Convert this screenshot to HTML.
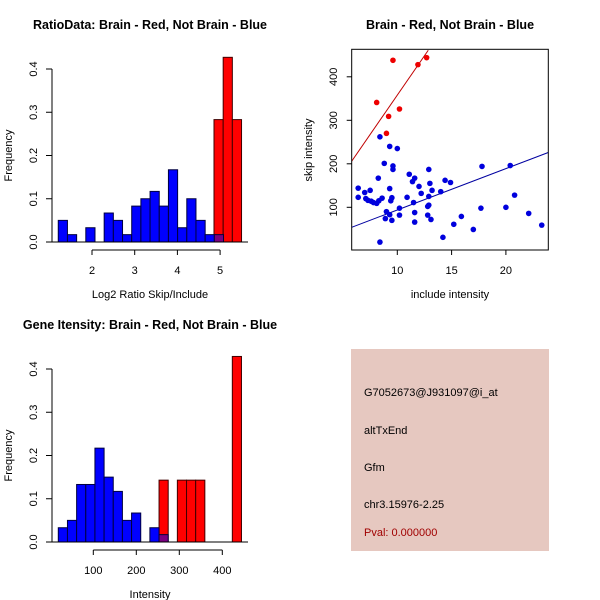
<!DOCTYPE html>
<html><head><meta charset="utf-8"><style>
body{margin:0;background:#fff;}
svg{display:block;font-family:"Liberation Sans",sans-serif;}
</style></head><body>
<svg id="c" width="600" height="600" xmlns="http://www.w3.org/2000/svg"></svg>
<script>
// ---- Panel 1 data: RatioData histogram ----
const ratioBlueStart = 1.21;
const ratioBinWidth = 0.215;
const ratioBlue = [0.05,0.017,0,0.033,0,0.067,0.05,0.017,0.083,0.1,0.117,0.083,0.167,0.033,0.1,0.05,0.017,0.017];
const ratioRedStart = 4.857;
const ratioRed = [0.283,0.427,0.283];
const ratioXTicks = [2,3,4,5];
const freqTicks = ["0.0","0.1","0.2","0.3","0.4"];
// ---- Panel 3 data: Gene intensity histogram ----
const intBlueStart = 18.6;
const intBinWidth = 21.3;
const intBlue = [0.033,0.05,0.133,0.133,0.217,0.15,0.117,0.05,0.067,0,0.033,0.017];
const intRedStart = 252.9;
const intRed = [0.143,0,0.143,0.143,0.143,0,0,0,0.429];
const intXTicks = [100,200,300,400];
// ---- Panel 2 data: scatter ----
const redX = [8.1,12.7,11.9,9.6,9.2,10.2,9.0];
const redY = [341,444,428,438,309,326,270];
const blueX = [8.4,9.3,10.0,8.8,9.6,9.6,12.9,17.8,20.4,8.25,11.1,11.6,11.4,12.0,13.0,14.4,14.9,6.4,9.3,7.0,7.5,12.2,13.2,14.0,20.8,6.4,7.1,7.3,7.6,7.8,8.1,8.3,8.6,9.5,9.4,10.9,11.5,12.9,12.8,12.9,20.0,17.7,10.2,9.0,9.3,10.2,11.6,12.8,15.9,22.1,8.9,9.5,11.6,13.1,15.2,17.0,23.3,14.2,8.4];
const blueY = [262,240,235,201,195,187,187,194,196,167,176,167,159,148,155,162,157,144,143,134,139,132,139,136,128,123,120,116,114,111,109,115,121,122,115,123,111,125,102,105,100,98,98,90,83,82,88,82,79,86,74,70,66,72,61,49,59,31,20];
const redLine = [5.8,206,12.85,461];
const blueLine = [5.8,54,23.9,226];
const scatXTicks = [10,15,20];
const scatYTicks = [100,200,300,400];

const svg = document.getElementById('c');
const NS = 'http://www.w3.org/2000/svg';
function mk(tag, attrs, parent){
  const e = document.createElementNS(NS, tag);
  for (const k in attrs) e.setAttribute(k, attrs[k]);
  (parent||svg).appendChild(e);
  return e;
}
function txt(s, x, y, size, opts, parent){
  const e = mk('text', Object.assign({x:x, y:y, 'font-size':size, 'text-anchor':'middle', fill:'#000'}, opts||{}), parent);
  e.textContent = s;
  return e;
}

function histogram(cfg){
  const g = mk('g', {});
  
  
  const xs = v => cfg.x0px + (v - cfg.x0) * cfg.xScale;
  const ys = v => cfg.y0px - v * cfg.yScale;
  // red bars
  cfg.red.forEach((v, i) => {
    if (v <= 0) return;
    const a = xs(cfg.redStart + i*cfg.bw), b = xs(cfg.redStart + (i+1)*cfg.bw);
    const r = mk('rect', {x:a, y:ys(v), width:b-a, height:v*cfg.yScale, fill:'#ff0000', stroke:'#400000', 'stroke-width':1}, g);
    
    
  });
  // blue bars
  cfg.blue.forEach((v, i) => {
    if (v <= 0) return;
    const lo = cfg.blueStart + i*cfg.bw;
    const a = xs(lo), b = xs(lo + cfg.bw);
    const overlap = lo >= cfg.redStart - cfg.bw*0.5;
    const r = mk('rect', {x:a, y:ys(v), width:b-a, height:v*cfg.yScale, fill: overlap ? '#7a0080' : '#0000ff', stroke:'#000040', 'stroke-width':1}, g);
    
    
  });
  // y axis
  const yax = mk('g', {}, g);
  
  
  mk('line', {x1:52, x2:52, y1:ys(0), y2:ys(0.4), stroke:'#000'}, yax);
  freqTicks.forEach((t, i) => {
    const y = ys(i*0.1);
    mk('line', {x1:46, x2:52, y1:y, y2:y, stroke:'#000'}, yax);
    const tl = txt(t, 37, y, 11, {transform:`rotate(-90 37 ${y})`}, yax);
    
    
  });
  // baseline
  mk('line', {x1:52, x2:248, y1:ys(0), y2:ys(0), stroke:'#000'}, g);
  // x axis
  const xax = mk('g', {}, g);
  
  
  const ay = cfg.y0px + 8;
  mk('line', {x1:xs(cfg.ticks[0]), x2:xs(cfg.ticks[cfg.ticks.length-1]), y1:ay, y2:ay, stroke:'#000'}, xax);
  cfg.ticks.forEach(t => {
    mk('line', {x1:xs(t), x2:xs(t), y1:ay, y2:ay+5, stroke:'#000'}, xax);
    const tl = txt(String(t), xs(t), ay+24, 11, {}, xax);
    
    
  });
  const xt = txt(cfg.xlabel, 150, cfg.y0px + 56, 11, {}, g);
  
  
  const yt = txt('Frequency', 12, ys(0.2), 11, {transform:`rotate(-90 12 ${ys(0.2)})`}, g);
  
  
  const tt = txt(cfg.title, 150, cfg.titleY, 12.5, {'font-weight':'bold'}, g);
  
  
}

histogram({name:'ratio-histogram', x0:2, x0px:92, xScale:42.7, y0px:242, yScale:432.5,
  blue:ratioBlue, red:ratioRed, blueStart:ratioBlueStart, redStart:ratioRedStart, bw:ratioBinWidth,
  ticks:ratioXTicks, xlabel:'Log2 Ratio Skip/Include', title:'RatioData: Brain - Red, Not Brain - Blue', titleY:29});
histogram({name:'intensity-histogram', x0:100, x0px:93.3, xScale:0.43, y0px:542, yScale:432.5,
  blue:intBlue, red:intRed, blueStart:intBlueStart, redStart:intRedStart, bw:intBinWidth,
  ticks:intXTicks, xlabel:'Intensity', title:'Gene Itensity: Brain - Red, Not Brain - Blue', titleY:329});

// ---- scatter ----
(function(){
  const g = mk('g', {});
  
  
  const L=351.7, R=548.3, T=49.3, B=250;
  const xs = v => 397.3 + (v-10)*10.86;
  const ys = v => 207.3 - (v-100)*0.435;
  const cp = mk('clipPath', {id:'sc'}, g);
  mk('rect', {x:L, y:T, width:R-L, height:B-T}, cp);
  const rl = mk('line', {x1:xs(redLine[0]), y1:ys(redLine[1]), x2:xs(redLine[2]), y2:ys(redLine[3]), stroke:'#c00000', 'stroke-width':1, 'clip-path':'url(#sc)'}, g);
  
  
  const bl = mk('line', {x1:xs(blueLine[0]), y1:ys(blueLine[1]), x2:xs(blueLine[2]), y2:ys(blueLine[3]), stroke:'#0000a0', 'stroke-width':1, 'clip-path':'url(#sc)'}, g);
  
  
  redX.forEach((x, i) => {
    const c = mk('circle', {cx:xs(x), cy:ys(redY[i]), r:2.8, fill:'#ee0000'}, g);
    
    
  });
  blueX.forEach((x, i) => {
    const c = mk('circle', {cx:xs(x), cy:ys(blueY[i]), r:2.8, fill:'#0000dd'}, g);
    
    
  });
  mk('rect', {x:L, y:T, width:R-L, height:B-T, fill:'none', stroke:'#000'}, g);
  scatXTicks.forEach(t => {
    mk('line', {x1:xs(t), x2:xs(t), y1:B, y2:B+5, stroke:'#000'}, g);
    const tl = txt(String(t), xs(t), B+24, 11, {}, g);
    
    
  });
  scatYTicks.forEach(t => {
    const y = ys(t);
    mk('line', {x1:L-5, x2:L, y1:y, y2:y, stroke:'#000'}, g);
    const tl = txt(String(t), 337, y, 11, {transform:`rotate(-90 337 ${y})`}, g);
    
    
  });
  const xt = txt('include intensity', 450, 298, 11, {}, g);
  
  
  const yt = txt('skip intensity', 312, 150, 11, {transform:'rotate(-90 312 150)'}, g);
  
  
  const tt = txt('Brain - Red, Not Brain - Blue', 450, 29, 12.5, {'font-weight':'bold'}, g);
  
  
})();

// ---- info panel ----
(function(){
  const g = mk('g', {});
  
  
  mk('rect', {x:351, y:349, width:198, height:202, fill:'#e6c8c0'}, g);
  const lines = [['G7052673@J931097@i_at',396,'#000','probe-id'],['altTxEnd',434,'#000','event-type'],['Gfm',471,'#000','gene-name'],['chr3.15976-2.25',508,'#000','location'],['Pval: 0.000000',536,'#a00000','p-value']];
  lines.forEach(l => {
    const t = txt(l[0], 364, l[1], 11, {'text-anchor':'start', fill:l[2]}, g);
    
    
  });
})();
</script>
</body></html>
